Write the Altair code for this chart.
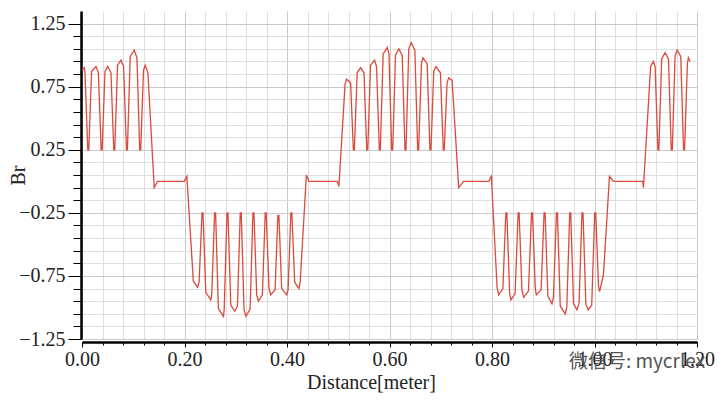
import altair as alt
import pandas as pd

# Distance [m] and Br (vertices of the polyline)
distance = [
    0.0000, 0.0045, 0.0058, 0.0113, 0.0132,
    0.0187, 0.0273, 0.0320, 0.0374, 0.0394,
    0.0448, 0.0501, 0.0565, 0.0620, 0.0639,
    0.0694, 0.0760, 0.0812, 0.0867, 0.0886,
    0.0941, 0.1019, 0.1072, 0.1126, 0.1146,
    0.1200, 0.1233, 0.1286, 0.1409, 0.1475,
    0.1993, 0.2046,
    0.2172, 0.2254, 0.2285, 0.2342, 0.2361,
    0.2416, 0.2513, 0.2533, 0.2587, 0.2607,
    0.2661, 0.2761, 0.2774, 0.2829, 0.2848,
    0.2903, 0.2981, 0.3033, 0.3088, 0.3107,
    0.3162, 0.3201, 0.3281, 0.3335, 0.3355,
    0.3409, 0.3442, 0.3520, 0.3575, 0.3594,
    0.3649, 0.3682, 0.3768, 0.3822, 0.3842,
    0.3896, 0.3994, 0.4021, 0.4076, 0.4095,
    0.4150, 0.4233, 0.4257, 0.4378, 0.4428,
    0.4981, 0.5013,
    0.5133, 0.5163, 0.5241, 0.5295, 0.5315,
    0.5369, 0.5435, 0.5502, 0.5556, 0.5576,
    0.5630, 0.5708, 0.5747, 0.5802, 0.5821,
    0.5876, 0.5956, 0.5989, 0.6043, 0.6063,
    0.6117, 0.6182, 0.6248, 0.6302, 0.6322,
    0.6376, 0.6423, 0.6495, 0.6550, 0.6569,
    0.6624, 0.6653, 0.6735, 0.6789, 0.6809,
    0.6863, 0.6906, 0.6994, 0.7049, 0.7068,
    0.7123, 0.7156, 0.7222, 0.7350, 0.7448,
    0.7935, 0.7988,
    0.8099, 0.8130, 0.8212, 0.8270, 0.8290,
    0.8344, 0.8371, 0.8451, 0.8510, 0.8529,
    0.8584, 0.8617, 0.8712, 0.8771, 0.8790,
    0.8845, 0.8864, 0.8958, 0.9016, 0.9036,
    0.9090, 0.9170, 0.9199, 0.9258, 0.9277,
    0.9332, 0.9429, 0.9459, 0.9517, 0.9536,
    0.9591, 0.9657, 0.9698, 0.9756, 0.9776,
    0.9831, 0.9877, 0.9946, 1.0004, 1.0024,
    1.0078, 1.0098, 1.0175, 1.0292, 1.0370,
    1.0943, 1.0955,
    1.1095, 1.1149, 1.1183, 1.1237, 1.1256,
    1.1311, 1.1377, 1.1443, 1.1498, 1.1518,
    1.1572, 1.1611, 1.1683, 1.1738, 1.1758,
    1.1812, 1.1831, 1.1864,
]
br = [
    0.88, 0.90, 0.86, 0.25, 0.25,
    0.87, 0.91, 0.86, 0.25, 0.25,
    0.87, 0.91, 0.86, 0.25, 0.25,
    0.92, 0.96, 0.91, 0.25, 0.25,
    0.99, 1.04, 0.98, 0.25, 0.25,
    0.88, 0.92, 0.86, -0.05, 0.00,
    0.00, 0.04,
    -0.79, -0.84, -0.80, -0.25, -0.25,
    -0.88, -0.94, -0.89, -0.25, -0.25,
    -1.01, -1.07, -1.02, -0.25, -0.25,
    -0.98, -1.03, -0.99, -0.25, -0.25,
    -1.02, -1.07, -1.01, -0.25, -0.25,
    -0.90, -0.95, -0.90, -0.25, -0.25,
    -0.85, -0.90, -0.86, -0.27, -0.27,
    -0.85, -0.90, -0.86, -0.25, -0.25,
    -0.80, -0.85, -0.80, 0.05, 0.00,
    0.00, -0.04,
    0.77, 0.81, 0.78, 0.25, 0.25,
    0.86, 0.90, 0.86, 0.25, 0.25,
    0.92, 0.96, 0.91, 0.25, 0.25,
    1.01, 1.06, 1.01, 0.25, 0.25,
    1.00, 1.05, 1.00, 0.25, 0.25,
    1.05, 1.10, 1.04, 0.25, 0.25,
    0.94, 0.98, 0.93, 0.25, 0.25,
    0.87, 0.91, 0.86, 0.25, 0.25,
    0.78, 0.82, 0.80, -0.05, 0.00,
    0.00, 0.04,
    -0.84, -0.90, -0.85, -0.25, -0.25,
    -0.89, -0.94, -0.89, -0.25, -0.25,
    -0.86, -0.92, -0.87, -0.25, -0.25,
    -0.85, -0.90, -0.86, -0.25, -0.25,
    -0.91, -0.97, -0.92, -0.25, -0.25,
    -0.99, -1.05, -1.00, -0.25, -0.25,
    -0.97, -1.02, -0.97, -0.25, -0.25,
    -0.97, -1.02, -0.98, -0.25, -0.25,
    -0.83, -0.875, -0.74, 0.04, 0.00,
    0.00, -0.05,
    0.91, 0.95, 0.91, 0.25, 0.25,
    0.97, 1.02, 0.97, 0.25, 0.25,
    0.99, 1.04, 0.99, 0.25, 0.25,
    0.93, 0.98, 0.95,
]

x_major = [0.0, 0.2, 0.4, 0.6, 0.8, 1.0, 1.2]
x_minor = [0.0, 0.04, 0.08, 0.12, 0.16, 0.2, 0.24, 0.28, 0.32, 0.36, 0.4,
           0.44, 0.48, 0.52, 0.56, 0.6, 0.64, 0.68, 0.72, 0.76, 0.8, 0.84,
           0.88, 0.92, 0.96, 1.0, 1.04, 1.08, 1.12, 1.16, 1.2]
y_major = [-1.25, -0.75, -0.25, 0.25, 0.75, 1.25]
y_minor = [-1.25, -1.15, -1.05, -0.95, -0.85, -0.75, -0.65, -0.55, -0.45,
           -0.35, -0.25, -0.15, -0.05, 0.05, 0.15, 0.25, 0.35, 0.45, 0.55,
           0.65, 0.75, 0.85, 0.95, 1.05, 1.15, 1.25]
watermark = ["微信号: mycrlex"]

df = pd.DataFrame({"Distance": distance, "Br": br})
base = alt.Chart(df)

xs = alt.Scale(domain=[0, 1.2], nice=False, zero=False)
ys = alt.Scale(domain=[-1.25, 1.35], nice=False, zero=False)

minor = base.mark_line(opacity=0).encode(
    x=alt.X("Distance:Q", scale=xs, axis=alt.Axis(
        orient="bottom", values=x_minor, grid=True, gridColor="#dedede",
        labels=False, tickSize=3, domain=False, title=None, offset=3)),
    y=alt.Y("Br:Q", scale=ys, axis=alt.Axis(
        orient="left", values=y_minor, grid=True, gridColor="#dedede",
        labels=False, tickSize=8, domain=False, title=None, offset=1)),
)

line = base.mark_line(color="#da4a3d", strokeWidth=1.3).encode(
    x=alt.X("Distance:Q", scale=xs, axis=alt.Axis(
        orient="bottom", values=x_major, grid=True, gridColor="#c9c9c9",
        format=".2f", labelFlush=False, tickSize=5, labelPadding=18.7,
        labelBaseline="alphabetic", domainWidth=2.5, offset=3,
        title="Distance[meter]", titleX=289, titleY=46,
        titleBaseline="alphabetic")),
    y=alt.Y("Br:Q", scale=ys, axis=alt.Axis(
        orient="left", values=y_major, grid=True, gridColor="#c9c9c9",
        format=".2f", labelFlush=False, tickSize=13, labelPadding=3,
        domainWidth=2.5, offset=1, title="Br", titleX=-53, titleY=164)),
)

wm = alt.Chart(pd.DataFrame({"t": watermark})).mark_text(
    font="Noto Sans CJK SC", fontSize=19, color="#555555",
    align="center", baseline="middle"
).encode(text="t:N", x=alt.value(555), y=alt.value(351))

chart = alt.layer(minor, line, wm).resolve_axis(
    x="independent", y="independent"
).properties(
    width=615, height=328,
    autosize=alt.AutoSizeParams(type="none"),
    padding={"left": 74, "top": 3, "right": 18, "bottom": 60},
).configure_view(stroke=None).configure_axis(
    labelFont="Liberation Serif", titleFont="Liberation Serif",
    labelFontSize=20, titleFontSize=20, labelColor="#222222",
    titleColor="#222222", titleFontWeight="normal",
    tickColor="#000000", domainColor="#000000",
)

chart.save("out.html", embed_options={"renderer": "svg", "actions": False})
